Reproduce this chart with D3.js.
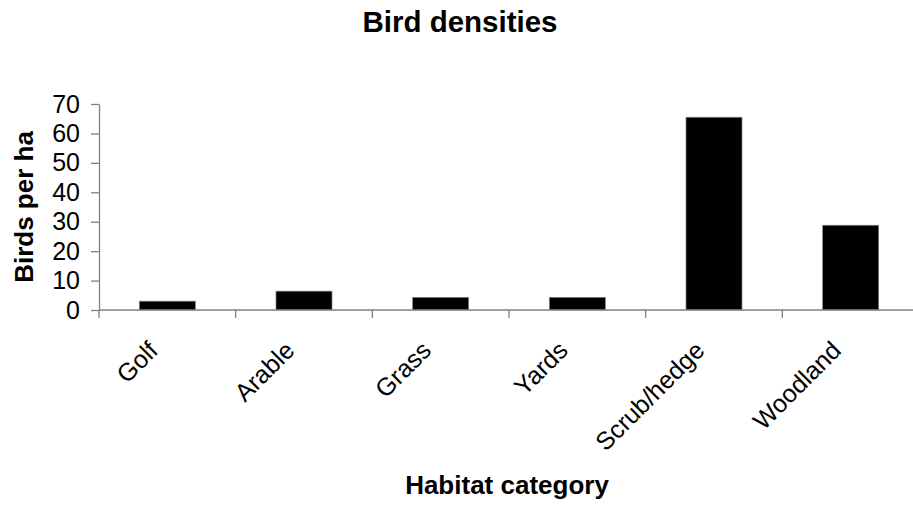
<!DOCTYPE html>
<html>
<head>
<meta charset="utf-8">
<script src="https://cdn.jsdelivr.net/npm/d3@7"></script>
<style>
  body { margin: 0; background: #fff; }
  svg { display: block; font-family: "Liberation Sans", Arial, sans-serif; }
</style>
</head>
<body>
<script>
const width = 913,
  height = 508;

// data
const habitats = ["Golf", "Arable", "Grass", "Yards", "Scrub/hedge", "Woodland"];
const density = [3, 6.4, 4.3, 4.3, 65.5, 28.8];
const yTicks = [0, 10, 20, 30, 40, 50, 60, 70];

const plotLeft = 99,
  plotRight = 919, // plot area runs a little past the window edge
  plotTop = 104,
  plotBottom = 310;

const x = d3.scaleBand().domain(habitats).range([plotLeft, plotRight]).paddingInner(0).paddingOuter(0);
const y = d3.scaleLinear().domain([0, 70]).range([plotBottom, plotTop]);

const svg = d3.select("body").append("svg")
  .attr("width", width)
  .attr("height", height);

// title
svg.append("text")
  .attr("x", 460).attr("y", 32)
  .attr("text-anchor", "middle")
  .style("font-size", "29.5px").style("font-weight", "bold")
  .text("Bird densities");

// bars
const barW = 56;
svg.selectAll("rect.bar")
  .data(habitats)
  .join("rect")
  .attr("class", "bar")
  .attr("x", (d) => x(d) + x.bandwidth() / 2 - barW / 2)
  .attr("y", (d, i) => y(density[i]))
  .attr("width", barW)
  .attr("height", (d, i) => y(0) - y(density[i]))
  .attr("fill", "#000")
  .attr("stroke", "#808080")
  .attr("stroke-width", 0.7);

// y axis
const yAxis = svg.append("g")
  .attr("transform", `translate(${plotLeft},0)`)
  .call(d3.axisLeft(y).tickValues(yTicks).tickSize(8).tickPadding(11).tickSizeOuter(0));
yAxis.select(".domain").attr("stroke", "#808080").attr("stroke-width", 1.3);
yAxis.selectAll(".tick line").attr("stroke", "#808080").attr("stroke-width", 1.3);
yAxis.selectAll(".tick text")
  .style("font-size", "25px")
  .style("font-family", "Liberation Sans, Arial, sans-serif")
  .attr("fill", "#000");

// x axis line + boundary ticks
svg.append("line")
  .attr("x1", plotLeft).attr("x2", plotRight)
  .attr("y1", y(0)).attr("y2", y(0))
  .attr("stroke", "#808080").attr("stroke-width", 1.3);

const bounds = habitats.map((d) => x(d));
svg.selectAll("line.xtick")
  .data(bounds)
  .join("line")
  .attr("class", "xtick")
  .attr("x1", (d) => d).attr("x2", (d) => d)
  .attr("y1", y(0)).attr("y2", y(0) + 8)
  .attr("stroke", "#808080").attr("stroke-width", 1.3);

// category labels, rotated
svg.selectAll("text.cat")
  .data(habitats)
  .join("text")
  .attr("class", "cat")
  .attr("text-anchor", "end")
  .attr("transform", (d) => `translate(${x(d) + x.bandwidth() / 2 - 8},${y(0) + 42}) rotate(-45)`)
  .style("font-size", "25px")
  .text((d) => d);

// axis titles
svg.append("text")
  .attr("transform", `translate(33,207) rotate(-90)`)
  .attr("text-anchor", "middle")
  .style("font-size", "26px").style("font-weight", "bold")
  .text("Birds per ha");

svg.append("text")
  .attr("x", 507).attr("y", 494)
  .attr("text-anchor", "middle")
  .style("font-size", "26px").style("font-weight", "bold")
  .text("Habitat category");
</script>
</body>
</html>
